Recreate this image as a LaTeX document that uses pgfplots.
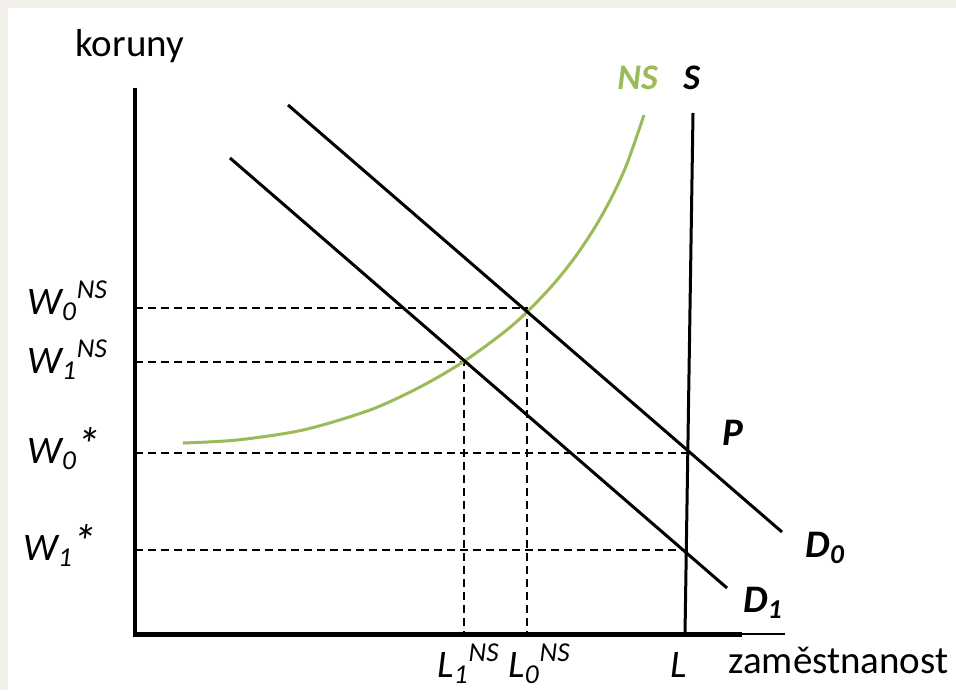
\documentclass[border=0pt]{standalone}
\usepackage{pgfplots}
\pgfplotsset{compat=1.18}
\usepackage{fontspec}
\setmainfont{Carlito}
\definecolor{nsgreen}{HTML}{9BBB59}
\definecolor{beige}{HTML}{F2EFEA}
\begin{document}
\begin{tikzpicture}
\begin{axis}[
  width=478pt, height=345pt, scale only axis,
  axis lines=none, clip=false,
  xmin=0, xmax=956, ymin=0, ymax=690, y dir=reverse,
]
% background
\addplot[fill=beige, draw=none] coordinates {(0,0) (956,0) (956,690) (0,690)} -- cycle;
\addplot[fill=white, draw=none] coordinates {(8,8) (956,8) (956,690) (8,690)} -- cycle;
% dashed guides
\addplot[black, line width=0.75pt, dash pattern=on 4pt off 2.5pt] coordinates {(135,308) (527,308) (527,634)};
\addplot[black, line width=0.75pt, dash pattern=on 4pt off 2.5pt] coordinates {(135,362) (464,362) (464,634)};
\addplot[black, line width=0.75pt, dash pattern=on 4pt off 2.5pt] coordinates {(135,453) (689,453)};
\addplot[black, line width=0.75pt, dash pattern=on 4pt off 2.5pt] coordinates {(135,550) (686,550)};
% NS curve
\addplot[nsgreen, line width=1.5pt, smooth, tension=0.5] coordinates {
 (183,443) (237,440) (303,430) (370,410) (420,387) (463,362) (503,333) (527,312) (553,284.7) (575,257.2) (595,227.2) (612,196.6) (627,163.6) (644,115)};
% demand lines
\addplot[black, line width=1.5pt] coordinates {(288,105) (782,532)};
\addplot[black, line width=1.5pt] coordinates {(230,158) (727,588)};
% S line
\addplot[black, line width=1.5pt] coordinates {(693,113) (685,634)};
% axes
\addplot[black, line width=0.6pt] coordinates {(740,634) (785,634)};
\addplot[black, line width=2.5pt] coordinates {(133,634) (742,634)};
\addplot[black, line width=2pt] coordinates {(135,88) (135,635)};
% labels
\node[anchor=base west, inner sep=0pt, font=\fontsize{19.5}{22}\selectfont] at (axis cs:75,57) {koruny};
\node[anchor=base west, inner sep=0pt, font=\fontsize{18}{22}\selectfont\bfseries\itshape, text=nsgreen] at (axis cs:617,90) {NS};
\node[anchor=base west, inner sep=0pt, font=\fontsize{18}{22}\selectfont\bfseries\itshape] at (axis cs:683,90) {S};
\node[anchor=base west, inner sep=0pt, font=\fontsize{19.5}{22}\selectfont\itshape] at (axis cs:27,314) {W\textsubscript{0}\textsuperscript{NS}};
\node[anchor=base west, inner sep=0pt, font=\fontsize{19.5}{22}\selectfont\itshape] at (axis cs:27,373) {W\textsubscript{1}\textsuperscript{NS}};
\node[anchor=base west, inner sep=0pt, font=\fontsize{19.5}{22}\selectfont\itshape] at (axis cs:27,463) {W\textsubscript{0}\raisebox{1pt}{\fontsize{24}{24}\selectfont *}};
\node[anchor=base west, inner sep=0pt, font=\fontsize{19.5}{22}\selectfont\itshape] at (axis cs:23,560) {W\textsubscript{1}\raisebox{1pt}{\fontsize{24}{24}\selectfont *}};
\node[anchor=base west, inner sep=0pt, font=\fontsize{19.5}{22}\selectfont\itshape] at (axis cs:437,677) {L\textsubscript{1}\textsuperscript{NS}};
\node[anchor=base west, inner sep=0pt, font=\fontsize{19.5}{22}\selectfont\itshape] at (axis cs:508,677) {L\textsubscript{0}\textsuperscript{NS}};
\node[anchor=base west, inner sep=0pt, font=\fontsize{19.5}{22}\selectfont\itshape] at (axis cs:670,677) {L};
\node[anchor=base west, inner sep=0pt, font=\fontsize{19.5}{22}\selectfont] at (axis cs:728,673) {zaměstnanost};
\node[anchor=base west, inner sep=0pt, font=\fontsize{19.5}{22}\selectfont\bfseries\itshape] at (axis cs:722,445) {P};
\node[anchor=base west, inner sep=0pt, font=\fontsize{19.5}{22}\selectfont\bfseries\itshape] at (axis cs:805,557) {D\textsubscript{0}};
\node[anchor=base west, inner sep=0pt, font=\fontsize{19.5}{22}\selectfont\bfseries\itshape] at (axis cs:743,612) {D\textsubscript{1}};
\end{axis}
\end{tikzpicture}
\end{document}
